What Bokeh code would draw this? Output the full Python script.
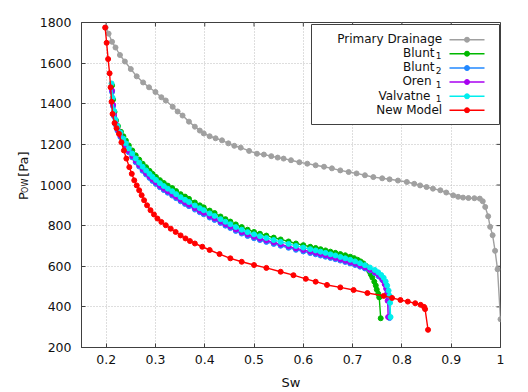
from bokeh.plotting import figure
from bokeh.layouts import row
from bokeh.models import Range1d, FixedTicker, Label, BoxAnnotation
from bokeh.core.properties import value
from bokeh.embed import file_html
from bokeh.resources import INLINE
import math

# ---------------- data ----------------
sw_drain = [0.199, 0.205, 0.212, 0.219, 0.228, 0.238, 0.250, 0.262, 0.275, 0.287,
            0.300, 0.312, 0.321, 0.335, 0.345, 0.355, 0.368, 0.380, 0.390, 0.398,
            0.410, 0.422, 0.435, 0.448, 0.460, 0.473, 0.490, 0.506, 0.520, 0.535,
            0.548, 0.560, 0.575, 0.592, 0.608, 0.625, 0.642, 0.658, 0.675, 0.692,
            0.708, 0.725, 0.742, 0.760, 0.775, 0.792, 0.810, 0.825, 0.837, 0.850,
            0.863, 0.878, 0.890, 0.904, 0.914, 0.924, 0.935, 0.947, 0.958, 0.964,
            0.969, 0.975, 0.979, 0.984, 0.989, 0.994, 1.000]
p_drain = [1775, 1745, 1705, 1677, 1640, 1608, 1571, 1535, 1505, 1481,
           1458, 1432, 1416, 1385, 1362, 1342, 1312, 1287, 1268, 1254,
           1240, 1230, 1220, 1205, 1193, 1184, 1168, 1154, 1150, 1142,
           1135, 1130, 1122, 1112, 1105, 1097, 1090, 1082, 1072, 1064,
           1057, 1048, 1039, 1033, 1028, 1022, 1015, 1006, 998, 990,
           982, 974, 963, 949, 942, 938, 936, 935, 933, 920,
           892, 846, 794, 753, 676, 585, 339]

sw_blunt1 = [0.212, 0.214, 0.217, 0.220, 0.224, 0.230, 0.235, 0.240, 0.246, 0.253,
             0.260, 0.267, 0.274, 0.281, 0.288, 0.294, 0.301, 0.309, 0.317, 0.325,
             0.334, 0.342, 0.351, 0.360, 0.368, 0.380, 0.390, 0.398, 0.410, 0.420,
             0.432, 0.442, 0.452, 0.463, 0.475, 0.487, 0.500, 0.512, 0.525, 0.540,
             0.554, 0.570, 0.585, 0.600, 0.614, 0.625, 0.635, 0.645, 0.655, 0.665,
             0.675, 0.685, 0.695, 0.703, 0.710, 0.716, 0.722, 0.727, 0.731, 0.734,
             0.737, 0.740, 0.744, 0.747, 0.749, 0.752, 0.754, 0.757]
p_blunt1 = [1490, 1420, 1360, 1318, 1290, 1262, 1240, 1219, 1195, 1170,
            1146, 1125, 1105, 1088, 1070, 1055, 1040, 1024, 1010, 997,
            985, 970, 955, 943, 932, 914, 900, 890, 874, 862,
            845, 832, 820, 806, 793, 780, 769, 760, 751, 741,
            732, 722, 712, 704, 696, 690, 684, 678, 672, 666,
            660, 654, 647, 640, 632, 624, 614, 602, 588, 575,
            560, 545, 524, 505, 485, 465, 447, 344]

sw_blunt2 = [0.212, 0.214, 0.216, 0.219, 0.223, 0.229, 0.235, 0.240, 0.246, 0.253,
             0.260, 0.267, 0.274, 0.281, 0.288, 0.294, 0.301, 0.309, 0.317, 0.325,
             0.334, 0.342, 0.351, 0.360, 0.368, 0.380, 0.390, 0.398, 0.410, 0.420,
             0.432, 0.442, 0.452, 0.463, 0.475, 0.487, 0.500, 0.512, 0.525, 0.540,
             0.554, 0.570, 0.585, 0.600, 0.614, 0.625, 0.635, 0.645, 0.655, 0.665,
             0.675, 0.685, 0.695, 0.705, 0.715, 0.725, 0.735, 0.745, 0.753, 0.760,
             0.766, 0.769, 0.771, 0.773, 0.775]
p_blunt2 = [1458, 1388, 1338, 1298, 1268, 1236, 1208, 1186, 1161, 1136,
            1112, 1091, 1070, 1052, 1035, 1020, 1005, 989, 975, 962,
            948, 935, 920, 907, 896, 879, 866, 856, 840, 828,
            813, 800, 788, 774, 761, 749, 738, 729, 720, 710,
            701, 691, 681, 673, 665, 659, 653, 647, 641, 635,
            628, 621, 614, 606, 598, 589, 579, 566, 550, 533,
            510, 490, 475, 440, 345]

sw_oren1 = [0.212, 0.214, 0.216, 0.219, 0.223, 0.229, 0.235, 0.240, 0.246, 0.253,
            0.260, 0.267, 0.274, 0.281, 0.288, 0.294, 0.301, 0.309, 0.317, 0.325,
            0.334, 0.342, 0.351, 0.360, 0.368, 0.380, 0.390, 0.398, 0.410, 0.420,
            0.432, 0.442, 0.452, 0.463, 0.475, 0.487, 0.500, 0.512, 0.525, 0.540,
            0.554, 0.570, 0.585, 0.600, 0.614, 0.625, 0.635, 0.645, 0.655, 0.665,
            0.675, 0.685, 0.695, 0.705, 0.715, 0.725, 0.735, 0.745, 0.752, 0.758,
            0.762, 0.765, 0.768, 0.770, 0.771, 0.772]
p_oren1 = [1465, 1395, 1345, 1305, 1275, 1243, 1215, 1193, 1168, 1143,
           1119, 1098, 1077, 1059, 1042, 1027, 1012, 996, 982, 969,
           955, 942, 927, 914, 903, 886, 873, 863, 847, 835,
           820, 807, 795, 781, 768, 756, 745, 736, 727, 717,
           708, 698, 688, 680, 672, 666, 660, 654, 647, 641,
           634, 627, 620, 612, 603, 594, 583, 571, 559, 545,
           530, 512, 490, 465, 430, 350]

sw_valv1 = [0.211, 0.213, 0.216, 0.219, 0.223, 0.229, 0.235, 0.240, 0.246, 0.253,
            0.260, 0.267, 0.274, 0.281, 0.288, 0.294, 0.301, 0.309, 0.317, 0.325,
            0.334, 0.342, 0.351, 0.360, 0.368, 0.380, 0.390, 0.398, 0.410, 0.420,
            0.432, 0.442, 0.452, 0.463, 0.475, 0.487, 0.500, 0.512, 0.525, 0.540,
            0.554, 0.570, 0.585, 0.600, 0.614, 0.625, 0.635, 0.645, 0.655, 0.665,
            0.675, 0.685, 0.695, 0.705, 0.715, 0.725, 0.735, 0.745, 0.752, 0.758,
            0.763, 0.767, 0.770, 0.773, 0.775, 0.776, 0.777]
p_valv1 = [1500, 1430, 1365, 1322, 1290, 1258, 1228, 1205, 1180, 1155,
           1131, 1110, 1090, 1072, 1055, 1040, 1025, 1009, 995, 982,
           969, 955, 940, 927, 916, 899, 886, 876, 860, 848,
           832, 819, 807, 793, 780, 768, 757, 748, 739, 729,
           720, 710, 700, 692, 684, 678, 672, 666, 659, 653,
           646, 639, 632, 624, 615, 605, 594, 582, 570, 557,
           543, 525, 505, 480, 455, 420, 350]

sw_new = [0.198, 0.201, 0.204, 0.207, 0.209, 0.211, 0.213, 0.217, 0.221, 0.226,
          0.231, 0.236, 0.241, 0.247, 0.252, 0.257, 0.262, 0.267, 0.272, 0.277,
          0.283, 0.290, 0.297, 0.304, 0.312, 0.321, 0.331, 0.341, 0.351, 0.361,
          0.370, 0.380, 0.395, 0.410, 0.430, 0.452, 0.475, 0.500, 0.525, 0.554,
          0.580, 0.605, 0.625, 0.648, 0.675, 0.702, 0.730, 0.763, 0.780, 0.797,
          0.812, 0.827, 0.838, 0.845, 0.847, 0.853]
p_new = [1775, 1700, 1620, 1550, 1481, 1410, 1350, 1305, 1280, 1252,
         1210, 1170, 1130, 1088, 1055, 1023, 998, 974, 950, 925,
         900, 876, 855, 835, 818, 802, 785, 769, 752, 737,
         724, 712, 696, 680, 660, 639, 622, 606, 592, 573,
         556, 538, 524, 508, 496, 483, 468, 454, 444, 434,
         426, 418, 410, 400, 389, 287]

series_names = ["Primary Drainage", "Blunt", "Blunt", "Oren", "Valvatne", "New Model"]
series_subs = [None, "1", "2", "1", "1", None]
series_colors = ["#a0a0a0", "#00b800", "#2288ff", "#a800f0", "#00eeee", "#ff0000"]
x_ticks = [0.2, 0.3, 0.4, 0.5, 0.6, 0.7, 0.8, 0.9, 1.0]
y_ticks = [200, 400, 600, 800, 1000, 1200, 1400, 1600, 1800]
y_label_main = "P"
y_label_sub = "OW"
y_label_unit = "[Pa]"
x_label = "Sw"

# ---------------- geometry ----------------
X0, X1, Y0, Y1 = 0.15, 1.0, 200, 1800
FW, FH = 419, 326
LAB_W = 35            # width of the narrow strip holding the rotated y label
FONT = "DejaVu Sans"
AX_COL = "#404040"
TXT_COL = "#111111"
TICK = 4

# ---------------- main figure ----------------
p = figure(width=528 - LAB_W, height=392, output_backend="svg", toolbar_location=None,
           x_range=Range1d(X0, X1), y_range=Range1d(Y0, Y1),
           min_border_left=81 - LAB_W, min_border_right=28, min_border_top=22,
           min_border_bottom=44)
p.background_fill_color = "white"
p.border_fill_color = "white"
p.outline_line_color = AX_COL
p.outline_line_width = 1

for ax, ticks in ((p.xaxis[0], x_ticks), (p.yaxis[0], y_ticks)):
    ax.ticker = FixedTicker(ticks=ticks)
    ax.major_tick_in = TICK
    ax.major_tick_out = 0
    ax.minor_tick_line_color = None
    ax.axis_line_color = AX_COL
    ax.major_tick_line_color = AX_COL
    ax.major_label_text_font = FONT
    ax.major_label_text_font_size = "12.5px"
    ax.major_label_text_color = TXT_COL

p.xaxis[0].major_label_standoff = 7
p.yaxis[0].major_label_standoff = 10
p.xaxis[0].major_label_overrides = {1: "1"}
p.xaxis[0].axis_label = x_label
p.xaxis[0].axis_label_text_font = FONT
p.xaxis[0].axis_label_text_font_size = "13px"
p.xaxis[0].axis_label_text_font_style = "normal"
p.xaxis[0].axis_label_text_color = TXT_COL
p.xaxis[0].axis_label_standoff = 8

for g in (p.xgrid[0], p.ygrid[0]):
    g.grid_line_color = "#bdbdbd"
    g.grid_line_dash = "1 2"
    g.grid_line_width = 1
p.xgrid[0].ticker = FixedTicker(ticks=x_ticks[:-1])
p.ygrid[0].ticker = FixedTicker(ticks=y_ticks[1:-1])

# mirrored inward ticks on the top and right border (from the tick lists)
ty = TICK / FH * (Y1 - Y0)
tx = TICK / FW * (X1 - X0)
p.segment(x0=x_ticks, y0=[Y1] * len(x_ticks), x1=x_ticks, y1=[Y1 - ty] * len(x_ticks),
          line_color=AX_COL, line_width=1)
p.segment(x0=[X1] * len(y_ticks), y0=y_ticks, x1=[X1 - tx] * len(y_ticks), y1=y_ticks,
          line_color=AX_COL, line_width=1)

# ---------------- curves ----------------
data = [(sw_drain, p_drain), (sw_blunt1, p_blunt1), (sw_blunt2, p_blunt2),
        (sw_oren1, p_oren1), (sw_valv1, p_valv1), (sw_new, p_new)]
for (xs, ys), col in zip(data, series_colors):
    p.line(xs, ys, line_color=col, line_width=1.4)
    p.scatter(xs, ys, size=5, fill_color=col, line_color=col, marker="circle")

# ---------------- legend (label left, sample right) ----------------
LX0, LX1, LY0, LY1 = 230, 418, 223, 323
p.add_layout(BoxAnnotation(left=LX0, right=LX1, bottom=LY0, top=LY1,
                           left_units="screen", right_units="screen",
                           bottom_units="screen", top_units="screen",
                           fill_color="white", fill_alpha=1.0,
                           line_color=AX_COL, line_width=1, line_alpha=1.0))

def dx(sx):
    return X0 + sx / FW * (X1 - X0)

def dy(sy):
    return Y0 + sy / FH * (Y1 - Y0)

row_y = [308.7, 294.7, 280.3, 266.3, 252.0, 238.0]
main_right = [360.7, 353.0, 353.0, 350.0, 349.0, 360.7]
for i, (name, sub, col) in enumerate(zip(series_names, series_subs, series_colors)):
    yy = row_y[i]
    p.add_layout(Label(x=main_right[i], y=yy, x_units="screen", y_units="screen", text=name,
                       text_align="right", text_baseline="middle", text_font=FONT,
                       text_font_size="12px", text_color=TXT_COL))
    if sub:
        p.add_layout(Label(x=360.0, y=yy - 3, x_units="screen", y_units="screen", text=sub,
                           text_align="right", text_baseline="middle", text_font=FONT,
                           text_font_size="9px", text_color=TXT_COL))
    p.segment(x0=[dx(368)], y0=[dy(yy)], x1=[dx(403)], y1=[dy(yy)],
              line_color=col, line_width=1.4, level="overlay")
    p.scatter([dx(385.5)], [dy(yy)], size=5, fill_color=col, line_color=col,
              marker="circle", level="overlay")

# ---------------- narrow strip with rotated y-axis label ----------------
lab = figure(width=LAB_W, height=392, output_backend="svg", toolbar_location=None,
             x_range=Range1d(0, LAB_W), y_range=Range1d(0, 392),
             x_axis_type=None, y_axis_type=None,
             min_border_left=0, min_border_right=0, min_border_top=0, min_border_bottom=0)
lab.outline_line_color = None
lab.background_fill_color = "white"
lab.border_fill_color = "white"
lab.grid.visible = False
rot = math.pi / 2
lab.text(x=[23.3], y=[392 - 214], text=[y_label_main], angle=rot,
         text_align="left", text_baseline="alphabetic", text_font=value(FONT),
         text_font_size=value("13px"), text_color=TXT_COL)
lab.text(x=[24.5], y=[392 - 205.5], text=[y_label_sub], angle=rot,
         text_align="left", text_baseline="alphabetic", text_font=value(FONT),
         text_font_size=value("8px"), text_color=TXT_COL)
lab.text(x=[23.3], y=[392 - 186], text=[y_label_unit], angle=rot,
         text_align="left", text_baseline="alphabetic", text_font=value(FONT),
         text_font_size=value("13px"), text_color=TXT_COL)

layout = row(lab, p)
open("out.html", "w").write(file_html(layout, INLINE))
